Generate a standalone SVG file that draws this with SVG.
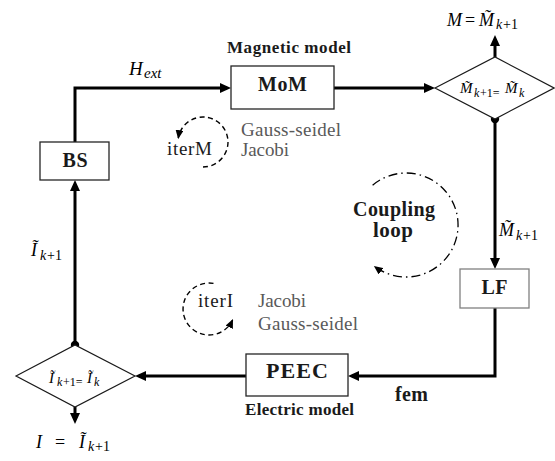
<svg xmlns="http://www.w3.org/2000/svg" width="555" height="461" viewBox="0 0 555 461">
<defs>
<marker id="ah" markerWidth="12" markerHeight="10" refX="7" refY="5" orient="auto" markerUnits="userSpaceOnUse"><path d="M0,0 L11,5 L0,10 z" fill="#000"/></marker>
<marker id="as" markerWidth="10" markerHeight="8" refX="8" refY="4" orient="auto" markerUnits="userSpaceOnUse"><path d="M0,0 L9,4 L0,8 z" fill="#000"/></marker>
<style>
text{font-family:"Liberation Serif","Times New Roman","DejaVu Serif",serif}
.box{fill:#fff;stroke:#262626;stroke-width:1.3}
.dia{fill:#fff;stroke:#1a1a1a;stroke-width:1.2}
.conn{fill:none;stroke:#000;stroke-width:3;marker-end:url(#ah)}
.bold{font-weight:bold;fill:#1a1a1a}
.lbl{font-size:19px;fill:#595959}
.it{font-style:italic;fill:#000}
.dash{fill:none;stroke:#000;stroke-width:1.4;stroke-dasharray:5 3.5;marker-end:url(#as)}
.dd{fill:none;stroke:#000;stroke-width:1.3;stroke-dasharray:9 4 1.5 4;marker-end:url(#as)}
</style>
</defs>

<g id="connectors">
<path class="conn" d="M75,142 V88 H227"/>
<path class="conn" d="M334,88 H431"/>
<path class="conn" d="M495,57 V39"/>
<path class="conn" d="M495,119 V265"/>
<path class="conn" d="M495,308 V376 H352"/>
<path class="conn" d="M246,376 H139"/>
<path class="conn" d="M75,345 V184"/>
<path class="conn" d="M75,407 V420"/>
<circle cx="495" cy="119" r="4.2" fill="#000"/>
<circle cx="75" cy="345" r="4.2" fill="#000"/>
</g>

<g id="BS">
<rect class="box" x="40" y="142" width="69" height="38"/>
<text class="bold" x="75" y="167" font-size="20" text-anchor="middle" textLength="25">BS</text>
</g>

<g id="MoM">
<rect class="box" x="231" y="66" width="103" height="43"/>
<text class="bold" x="282.5" y="91" font-size="20" text-anchor="middle" textLength="49">MoM</text>
<text class="bold" x="227" y="53" font-size="17" textLength="124">Magnetic model</text>
</g>

<g id="convM">
<polygon class="dia" points="435,88 495,57 554,88 495,119"/>
<text class="it" font-size="15"><tspan x="460" y="93">M̃</tspan><tspan font-size="12" y="97" x="474">k</tspan><tspan font-size="12" font-style="normal" x="480">+1=</tspan><tspan x="505" y="93">M̃</tspan><tspan font-size="12" y="97" x="519">k</tspan></text>
</g>

<g id="outM">
<text class="it" font-size="18"><tspan x="447" y="26">M</tspan><tspan font-style="normal" x="465">=</tspan><tspan x="479">M̃</tspan><tspan font-size="14" y="29" x="496">k</tspan><tspan font-size="14" font-style="normal" x="503">+1</tspan></text>
</g>

<g id="Mlabel">
<text class="it" font-size="18"><tspan x="499" y="236">M̃</tspan><tspan font-size="14" y="240" x="516">k</tspan><tspan font-size="14" font-style="normal" x="523">+1</tspan></text>
</g>

<g id="LF">
<rect x="460" y="269" width="69" height="39" fill="#fff" stroke="#808080" stroke-width="1.3"/>
<text class="bold" x="494.5" y="294" font-size="20" text-anchor="middle" textLength="26">LF</text>
</g>

<g id="PEEC">
<rect class="box" x="246" y="354" width="102" height="42"/>
<text class="bold" x="297" y="378" font-size="22" text-anchor="middle" textLength="62">PEEC</text>
<text class="bold" x="245" y="415" font-size="17" textLength="109">Electric model</text>
</g>

<g id="fem">
<text class="bold" x="395" y="401" font-size="20" textLength="33">fem</text>
</g>

<g id="Hext">
<text class="it" font-size="19"><tspan x="129" y="75">H</tspan><tspan font-size="15" y="78" x="144">ext</tspan></text>
</g>

<g id="convI">
<polygon class="dia" points="16,376 75,345 135,376 75,407"/>
<text class="it" font-size="15"><tspan x="49" y="383">Ĩ</tspan><tspan font-size="12" y="386" x="57">k</tspan><tspan font-size="12" font-style="normal" x="63">+1=</tspan><tspan x="87" y="383">Ĩ</tspan><tspan font-size="12" y="386" x="94">k</tspan></text>
</g>

<g id="Ilabel">
<text class="it" font-size="18"><tspan x="31" y="256">Ĩ</tspan><tspan font-size="14" y="260" x="40">k</tspan><tspan font-size="14" font-style="normal" x="47">+1</tspan></text>
</g>

<g id="outI">
<text class="it" font-size="18"><tspan x="36" y="448">I</tspan><tspan font-style="normal" x="55">=</tspan><tspan x="79">Ĩ</tspan><tspan font-size="14" y="451" x="88">k</tspan><tspan font-size="14" font-style="normal" x="95">+1</tspan></text>
</g>

<g id="iterM">
<path class="dash" d="M203,167 A25,25 0 1 0 178.3,138.1"/>
<text x="167" y="155" font-size="19" fill="#1a1a1a" textLength="45">iterM</text>
<text class="lbl" x="241" y="136" textLength="100">Gauss-seidel</text>
<text class="lbl" x="241" y="156" textLength="48">Jacobi</text>
</g>

<g id="iterI">
<path class="dash" d="M213.5,283.4 A26,26 0 1 0 232.6,320"/>
<text x="198" y="307" font-size="19" fill="#1a1a1a" textLength="35">iterI</text>
<text class="lbl" x="258" y="307" textLength="48">Jacobi</text>
<text class="lbl" x="258" y="330" textLength="100">Gauss-seidel</text>
</g>

<g id="coupling">
<path class="dd" d="M372.6,185.2 A52,52 0 1 1 374.7,266.5"/>
<text class="bold" x="394" y="216" font-size="20" text-anchor="middle" textLength="82">Coupling</text>
<text class="bold" x="393" y="237" font-size="21" text-anchor="middle" textLength="40">loop</text>
</g>
</svg>
